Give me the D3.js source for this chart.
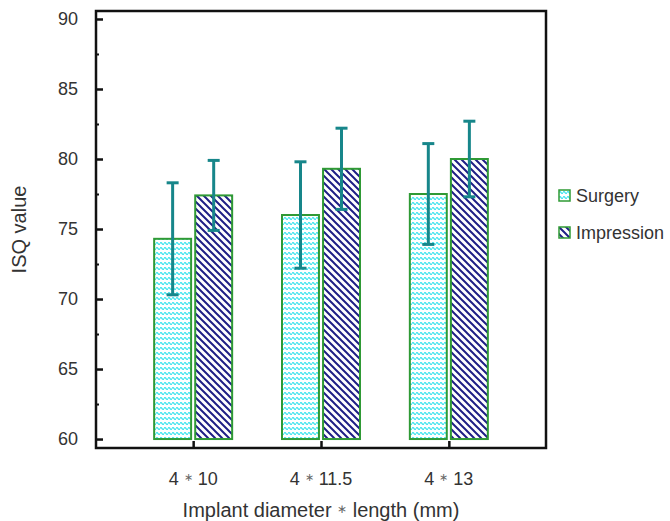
<!DOCTYPE html>
<html>
<head>
<meta charset="utf-8">
<script src="https://cdn.jsdelivr.net/npm/d3@7"></script>
<style>
  body { margin: 0; background: #fff; }
  text { font-family: "Liberation Sans", Arial, sans-serif; fill: #333; }
  .star { font-size: 0.6em; fill: #666; }
</style>
</head>
<body>
<div id="root"></div>
<script>
const categories = ["4|10", "4|11.5", "4|13"];
const seriesNames = ["Surgery", "Impression"];
const surgeryMean = [74.3, 76.0, 77.5];
const surgeryErr = [4.0, 3.8, 3.6];
const impressionMean = [77.4, 79.3, 80.0];
const impressionErr = [2.5, 2.9, 2.7];
const yTicks = [60, 65, 70, 75, 80, 85, 90];

const outerWidth = 670;
const outerHeight = 521;
const margin = { top: 11, left: 96, right: 124, bottom: 73 };
const width = outerWidth - margin.left - margin.right;
const height = outerHeight - margin.top - margin.bottom;

// write "a * b" with a small, light, raised asterisk
function starText(sel, parts) {
    sel.append("tspan").text(parts[0] + " ");
    sel.append("tspan").attr("class", "star").attr("dy", -4).text("\u2217");
    sel.append("tspan").attr("dy", 4).text(" " + parts[1]);
}

let svg = d3.select("#root").append("svg")
    .attr("width", outerWidth)
    .attr("height", outerHeight);

let defs = svg.append("defs");

let wave = defs.append("pattern")
    .attr("id", "wave")
    .attr("patternUnits", "userSpaceOnUse")
    .attr("width", 4).attr("height", 5);
wave.append("rect").attr("width", 4).attr("height", 5).attr("fill", "#fff");
wave.append("path")
    .attr("d", "M0,2.5 Q1,0.8 2,2.5 T4,2.5")
    .attr("fill", "none")
    .attr("stroke", "#3ee4ee")
    .attr("stroke-width", 1.4);

let hatch = defs.append("pattern")
    .attr("id", "hatch")
    .attr("patternUnits", "userSpaceOnUse")
    .attr("width", 7).attr("height", 7);
hatch.append("rect").attr("width", 7).attr("height", 7).attr("fill", "#fff");
hatch.append("path")
    .attr("d", "M-1,-1 L8,8 M-1,6 L1,8 M6,-1 L8,1")
    .attr("stroke", "#1f1f86")
    .attr("stroke-width", 2);

const fills = ["url(#wave)", "url(#hatch)"];

let chart = svg.append("g")
    .attr("transform", `translate(${margin.left}, ${margin.top})`);

let scaleY = d3.scaleLinear().domain([59.36, 90.57]).range([height, 0]);
let scaleX = d3.scalePoint().domain(categories).range([0, width]).padding(0.76);
let scaleSub = d3.scaleBand().domain(seriesNames).range([-39, 39]).paddingInner(0.1);

let data = [];
categories.forEach((c, i) => {
    data.push({ cat: c, s: 0, mean: surgeryMean[i], err: surgeryErr[i] });
    data.push({ cat: c, s: 1, mean: impressionMean[i], err: impressionErr[i] });
});

// bars
chart.selectAll(".bar")
    .data(data)
    .enter().append("rect")
    .attr("class", "bar")
    .attr("x", d => scaleX(d.cat) + scaleSub(seriesNames[d.s]))
    .attr("y", d => scaleY(d.mean))
    .attr("width", scaleSub.bandwidth())
    .attr("height", d => scaleY(60) - scaleY(d.mean))
    .attr("fill", d => fills[d.s])
    .attr("stroke", "#2f9a35")
    .attr("stroke-width", 2);

// error bars
let eb = chart.selectAll(".err")
    .data(data)
    .enter().append("g")
    .attr("class", "err")
    .attr("stroke", "#17868a")
    .attr("stroke-width", 3)
    .attr("transform", d => `translate(${scaleX(d.cat) + scaleSub(seriesNames[d.s]) + scaleSub.bandwidth() / 2}, 0)`);
eb.append("line")
    .attr("y1", d => scaleY(d.mean - d.err))
    .attr("y2", d => scaleY(d.mean + d.err));
eb.append("line")
    .attr("x1", -6).attr("x2", 6)
    .attr("y1", d => scaleY(d.mean + d.err))
    .attr("y2", d => scaleY(d.mean + d.err));
eb.append("line")
    .attr("x1", -6).attr("x2", 6)
    .attr("y1", d => scaleY(d.mean - d.err))
    .attr("y2", d => scaleY(d.mean - d.err));

// frame
chart.append("rect")
    .attr("width", width).attr("height", height)
    .attr("fill", "none")
    .attr("stroke", "#111")
    .attr("stroke-width", 2.5);

// y axis
let yAxis = chart.append("g")
    .call(d3.axisRight(scaleY).tickValues(yTicks).tickSize(7).tickFormat(""));
yAxis.select(".domain").remove();
yAxis.selectAll("line").attr("stroke", "#111").attr("stroke-width", 2.5);

let yMinor = chart.append("g")
    .call(d3.axisRight(scaleY).tickValues(d3.range(62.5, 90, 5)).tickSize(3).tickFormat(""));
yMinor.select(".domain").remove();
yMinor.selectAll("line").attr("stroke", "#111").attr("stroke-width", 2);

chart.selectAll(".ylab")
    .data(yTicks)
    .enter().append("text")
    .attr("class", "ylab")
    .attr("x", -18)
    .attr("y", d => scaleY(d))
    .attr("dy", "0.35em")
    .attr("text-anchor", "end")
    .style("font-size", "18px")
    .text(d => d);

// x axis
let xAxis = chart.append("g")
    .attr("transform", `translate(0, ${height})`)
    .call(d3.axisTop(scaleX).tickSize(7).tickFormat(""));
xAxis.select(".domain").remove();
xAxis.selectAll("line").attr("stroke", "#111").attr("stroke-width", 2.5);

chart.selectAll(".xlab")
    .data(categories)
    .enter().append("text")
    .attr("class", "xlab")
    .attr("x", d => scaleX(d))
    .attr("y", height + 37)
    .attr("text-anchor", "middle")
    .style("font-size", "18px")
    .each(function (d) { starText(d3.select(this), d.split("|")); });

// axis titles
chart.append("text")
    .attr("x", width / 2)
    .attr("y", height + 69)
    .attr("text-anchor", "middle")
    .style("font-size", "20px")
    .call(t => starText(t, ["Implant diameter", "length (mm)"]));

svg.append("text")
    .attr("transform", `translate(26, ${margin.top + height / 2}) rotate(-90)`)
    .attr("text-anchor", "middle")
    .style("font-size", "20px")
    .text("ISQ value");

// legend
let legend = svg.selectAll(".legend")
    .data(seriesNames)
    .enter().append("g")
    .attr("class", "legend")
    .attr("transform", (d, i) => `translate(559, ${190 + i * 37})`);
legend.append("rect")
    .attr("width", 11).attr("height", 11)
    .attr("fill", (d, i) => fills[i])
    .attr("stroke", "#2f9a35")
    .attr("stroke-width", 1.5);
legend.append("text")
    .attr("x", 17)
    .attr("y", 5.5)
    .attr("dy", "0.35em")
    .style("font-size", "18px")
    .text(d => d);
</script>
</body>
</html>
